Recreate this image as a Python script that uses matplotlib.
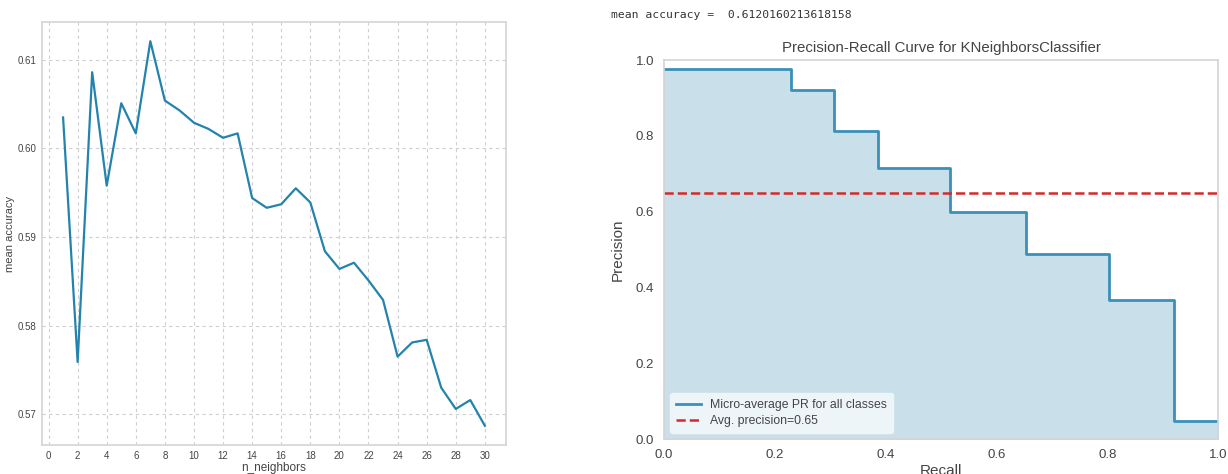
import numpy as np
import matplotlib
matplotlib.use('Agg')
import matplotlib.pyplot as plt

plt.rcParams['font.family'] = ['Liberation Sans', 'DejaVu Sans']

# knn sweep
n_neighbors = list(range(1, 31))
mean_acc = [0.6035, 0.5759, 0.6086, 0.5958, 0.6051, 0.6017, 0.6121, 0.6054,
            0.6043, 0.6029, 0.6022, 0.6012, 0.6017, 0.5944, 0.5933, 0.5937,
            0.5955, 0.5939, 0.5884, 0.5864, 0.5871, 0.5851, 0.5829, 0.5765,
            0.5781, 0.5784, 0.5730, 0.5706, 0.5716, 0.5687]
best_acc_text = '0.6120160213618158'

# precision-recall steps
recall = [0.0, 0.23, 0.306, 0.386, 0.516, 0.654, 0.803, 0.92, 1.0]
precision = [0.976, 0.921, 0.813, 0.714, 0.599, 0.488, 0.367, 0.047, 0.047]
avg_precision = 0.65

line_c = '#2383ad'
spine_c = '#d4d4d4'
text_c = '#444444'

fig = plt.figure(figsize=(12.28, 4.74), dpi=100)

# left: accuracy vs k
ax1 = fig.add_axes([0.0342, 0.0612, 0.412 - 0.0342, 0.9536 - 0.0612])
ax1.plot(n_neighbors, mean_acc, color=line_c, lw=1.6)
ax1.set_xticks(range(0, 31, 2))
ax1.set_yticks([0.57, 0.58, 0.59, 0.60, 0.61])
ax1.set_yticklabels(['0.57', '0.58', '0.59', '0.60', '0.61'])
ax1.grid(True, ls=(0, (3, 3)), color='#cfcfcf', lw=0.8)
ax1.tick_params(labelsize=7, colors=text_c, length=0, pad=4)
ax1.set_xlabel('n_neighbors', fontsize=8.5, color=text_c, labelpad=1)
ax1.set_ylabel('mean accuracy', fontsize=8, color=text_c, labelpad=2)
for s in ax1.spines.values():
    s.set_color(spine_c)
    s.set_linewidth(1.2)

# right: PR curve
ax2 = fig.add_axes([0.5407, 0.0738, 0.9919 - 0.5407, 0.8734 - 0.0738])
ax2.step(recall, precision, where='post', color='#3a90b8', lw=2,
         label='Micro-average PR for all classes')
ax2.fill_between(recall, precision, step='post', color='#c9e0ea')
ax2.axhline(avg_precision, color='#d42a2a', ls='--', lw=1.8,
            label='Avg. precision=%.2f' % avg_precision)
ax2.set_xlim(0, 1)
ax2.set_ylim(0, 1)
ax2.set_xticks([0, 0.2, 0.4, 0.6, 0.8, 1.0])
ax2.set_yticks([0, 0.2, 0.4, 0.6, 0.8, 1.0])
ax2.tick_params(labelsize=9.5, colors=text_c, length=0, pad=7)
ax2.set_title('Precision-Recall Curve for KNeighborsClassifier', fontsize=10.8,
              color=text_c, pad=6)
ax2.set_xlabel('Recall', fontsize=11, color=text_c, labelpad=2)
ax2.set_ylabel('Precision', fontsize=11, color=text_c, labelpad=8)
for s in ax2.spines.values():
    s.set_color(spine_c)
    s.set_linewidth(1.2)
leg = ax2.legend(loc='lower left', fontsize=8.8, frameon=True, facecolor='#eef5f9',
                 edgecolor='#eef5f9', framealpha=1, borderpad=0.5,
                 labelspacing=0.3, borderaxespad=0.5)
for t in leg.get_texts():
    t.set_color(text_c)

fig.text(611 / 1228, 1 - 15 / 474, 'mean accuracy =  ' + best_acc_text,
         family='DejaVu Sans Mono', fontsize=8.2, color='#333333', va='center')

fig.savefig('out.png', dpi=100)
